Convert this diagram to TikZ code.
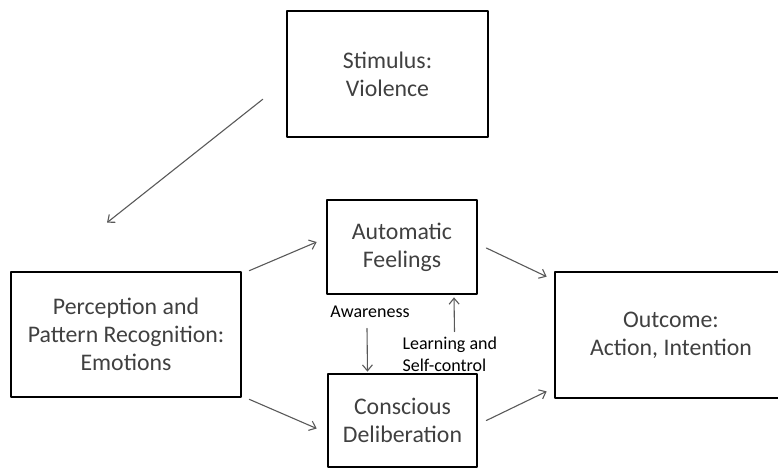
\documentclass[tikz,border=0pt]{standalone}
\usepackage{fontspec}
\setmainfont{Carlito}
\usetikzlibrary{arrows.meta,positioning}
\definecolor{boxtext}{RGB}{64,64,64}
\definecolor{arrowgray}{RGB}{89,89,89}

\begin{document}
\begin{tikzpicture}[x=1pt,y=-1pt,>={Straight Barb[length=6pt,width=10pt]},
 line cap=round,line join=round,
 stage/.style={draw=black,line width=2.7pt,text=boxtext,align=center,
  inner sep=0pt,font=\fontsize{23.8}{28}\selectfont},
 flow/.style={->,arrowgray,line width=1.1pt},
 note/.style={font=\fontsize{18}{22}\selectfont,text=black}]
 \clip (0,0) rectangle (778,469);
 \useasboundingbox (0,0) rectangle (778,469);
 \node[stage,minimum width=201pt,minimum height=126pt] (stim) at (387.5,74)
  {Stimulus:\\Violence};
 \node[stage,minimum width=230pt,minimum height=125pt] (perc) at (126,334.5)
  {Perception and\\Pattern Recognition:\\Emotions};
 \node[stage,minimum width=150pt,minimum height=94pt] (auto) at (402,247)
  {Automatic\\Feelings};
 \node[stage,minimum width=149pt,minimum height=93pt] (consc) at (402.5,420.5)
  {Conscious\\Deliberation};
 \node[stage,minimum width=232pt,minimum height=126pt] (out) at (671,335)
  {Outcome:\\Action, Intention};
 % arrows between the stages
 \draw[flow] ([shift={(-23,-39)}]stim.south west) -- ([shift={(-19,-48)}]perc.north);
 \draw[flow] ([shift={(7,0)}]perc.north east) -- ([shift={(-9,-5)}]auto.west);
 \draw[flow] ([shift={(7,1)}]perc.south east) -- ([shift={(-10,8)}]consc.west);
 \draw[flow] ([shift={(8,1)}]auto.east) -- ([shift={(-7,6)}]out.north west);
 \draw[flow] ([shift={(8,0)}]consc.east) -- ([shift={(-7,-8)}]out.south west);
 \draw[flow] ([shift={(-35,33)}]auto.south) -- ([shift={(-35,-1)}]consc.north);
 \draw[flow] ([shift={(52,-41)}]consc.north) -- ([shift={(52,2)}]auto.south);
 \node[note] (aware) at (370,312) {Awareness};
 \node[note,anchor=west,align=left] (learn) at (399,354) {Learning and\\Self-control};
\end{tikzpicture}
\end{document}
